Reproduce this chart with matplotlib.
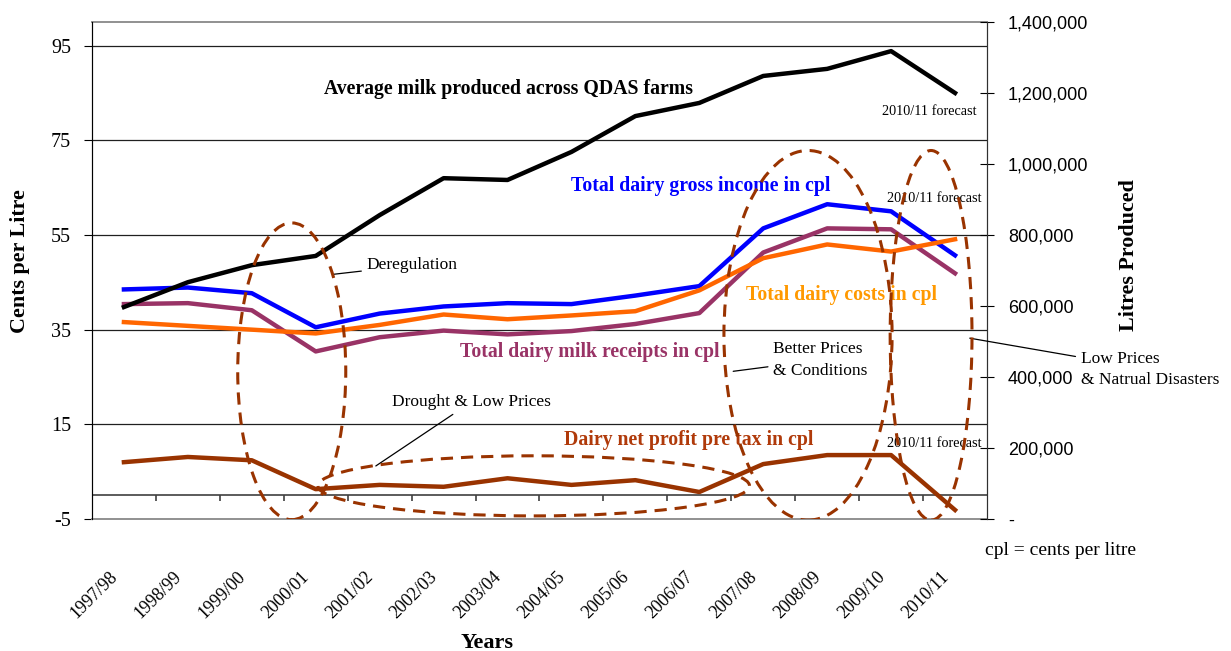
import matplotlib
matplotlib.use("Agg")
import matplotlib.pyplot as plt
from matplotlib.patches import Ellipse
from matplotlib.ticker import FuncFormatter
from matplotlib.transforms import ScaledTranslation

plt.rcParams['font.family'] = ['Liberation Serif', 'DejaVu Serif']

years = ['1997/98', '1998/99', '1999/00', '2000/01', '2001/02', '2002/03', '2003/04',
         '2004/05', '2005/06', '2006/07', '2007/08', '2008/09', '2009/10', '2010/11']

# litres produced (right axis)
milk_litres = [597000, 667000, 715000, 741000, 856000, 960000, 955000,
               1034000, 1135000, 1172000, 1248000, 1268000, 1318000, 1200000]

# cents per litre (left axis)
gross_income = [43.5, 43.9, 42.7, 35.5, 38.4, 39.9, 40.6, 40.4, 42.2, 44.2, 56.4, 61.5, 60.0, 50.7]
milk_receipts = [40.4, 40.6, 39.1, 30.4, 33.4, 34.8, 34.0, 34.7, 36.2, 38.5, 51.3, 56.4, 56.2, 46.9]
dairy_costs = [36.6, 35.8, 35.0, 34.2, 36.0, 38.2, 37.2, 38.0, 38.9, 43.3, 50.1, 53.0, 51.5, 54.1]
net_profit = [7.0, 8.1, 7.4, 1.3, 2.2, 1.8, 3.6, 2.2, 3.2, 0.7, 6.6, 8.5, 8.5, -3.1]

left_ticks = [-5, 15, 35, 55, 75, 95]
right_ticks = [0, 200000, 400000, 600000, 800000, 1000000, 1200000, 1400000]

BROWN = '#993300'
PURPLE = '#993366'
ORANGE = '#FF6600'

fig = plt.figure(figsize=(12.31, 6.51), dpi=100)
ax = fig.add_axes([0.0747, 0.2028, 0.7271, 0.7634])
ax2 = ax.twinx()

x = list(range(len(years)))

ax.set_xlim(-0.5, len(years) - 0.5)
ax.set_ylim(-5, 100)
ax2.set_ylim(0, 1400000)

# grid lines
for v in left_ticks[1:]:
    ax.axhline(v, color='#202020', lw=0.9, zorder=1)
ax.axhline(0, color='#404040', lw=1.2, zorder=1)
# boundary tick marks on the zero line
ax.vlines([i + 0.5 for i in x[:-1]], -1.3, 0, color='#404040', lw=1.2, zorder=1)

ax.plot(x, gross_income, color='#0000FF', lw=3.2, zorder=3)
ax.plot(x, milk_receipts, color=PURPLE, lw=3.2, zorder=3)
ax.plot(x, dairy_costs, color=ORANGE, lw=3.2, zorder=3)
ax.plot(x, net_profit, color=BROWN, lw=3.2, zorder=3)
ax2.plot(x, milk_litres, color='black', lw=3.2, zorder=3)

# spines
for s in ['top', 'bottom']:
    ax.spines[s].set_color('#909090')
    ax.spines[s].set_linewidth(1.4)
ax.spines['left'].set_color('#303030')
ax.spines['right'].set_color('#303030')
ax2.spines['right'].set_color('#303030')
ax2.spines['top'].set_visible(False)
ax2.spines['bottom'].set_visible(False)

ax.set_yticks(left_ticks)
ax.set_yticklabels([str(v) for v in left_ticks])
ax.tick_params(axis='y', labelsize=14.5, length=6, pad=9, direction='out')
ax.set_xticks(x)
ax.set_xticklabels(years, rotation=45, ha='right', va='center', rotation_mode='anchor')
ax.tick_params(axis='x', labelsize=13, length=0, pad=40)
shift = ScaledTranslation(-9 / 100, 0, fig.dpi_scale_trans)
for t in ax.get_xticklabels():
    t.set_transform(t.get_transform() + shift)

ax2.set_yticks(right_ticks)
ax2.yaxis.set_major_formatter(FuncFormatter(lambda v, p: '-' if v == 0 else '{:,.0f}'.format(v)))
ax2.tick_params(axis='y', labelsize=13, length=10, direction='inout', pad=10)
for t in ax2.get_yticklabels():
    t.set_family('Liberation Sans')

# series labels
lab = dict(ha='center', va='center', fontsize=14.2, fontweight='bold', zorder=5)
ax.text(6.02, 85.9, 'Average milk produced across QDAS farms', color='black', **lab)
ax.text(9.02, 65.3, 'Total dairy gross income in cpl', color='#0000FF', **lab)
ax.text(11.23, 42.3, 'Total dairy costs in cpl', color='#FF9900', **lab)
ax.text(7.28, 30.2, 'Total dairy milk receipts in cpl', color=PURPLE, **lab)
ax.text(8.84, 11.7, 'Dairy net profit pre tax in cpl', color='#B03A0A', **lab)

for yy in [81.1, 62.7, 11.0]:
    ax.text(13.42 if yy < 80 else 13.33, yy, '2010/11 forecast', ha='right', va='center',
            fontsize=10.3, zorder=5)

# dashed ellipses
ells = [(2.625, 26.2, 1.69, 62.7), (6.41, 2.0, 6.75, 12.7),
        (10.70, 33.8, 2.63, 78.1), (12.625, 33.8, 1.28, 78.1)]
for cx, cy, w, h in ells:
    ax2.add_patch(Ellipse((cx, cy), w, h, transform=ax.transData, fill=False,
                          edgecolor=BROWN, lw=2.2, linestyle=(0, (4, 2.6)), zorder=4))

# annotations with leader lines
notes = [('Deregulation', (3.28, 46.7), (3.80, 48.6)),
         ('Drought & Low Prices', (3.94, 6.2), (4.19, 19.7)),
         ('Better Prices\n& Conditions', (9.53, 26.2), (10.16, 28.6)),
         ('Low Prices\n& Natrual Disasters', (13.23, 33.2), (14.97, 26.6))]
for txt, xy, xyt in notes:
    ax2.annotate(txt, xy=xy, xytext=xyt, xycoords=ax.transData, textcoords=ax.transData,
                 ha='left', va='center', fontsize=12.5, linespacing=1.45,
                 annotation_clip=False,
                 arrowprops=dict(arrowstyle='-', color='black', lw=0.9,
                                 shrinkA=2, shrinkB=0))

ax.text(13.47, -11.75, 'cpl = cents per litre', ha='left', va='center', fontsize=14,
        clip_on=False)

fig.text(0.016, 0.599, 'Cents per Litre', rotation=90, ha='center', va='center',
         fontsize=15.8, fontweight='bold')
fig.text(0.917, 0.608, 'Litres Produced', rotation=90, ha='center', va='center',
         fontsize=15.8, fontweight='bold')
fig.text(0.3956, 0.0123, 'Years', ha='center', va='center', fontsize=16, fontweight='bold')

fig.savefig('out.png', dpi=100)
